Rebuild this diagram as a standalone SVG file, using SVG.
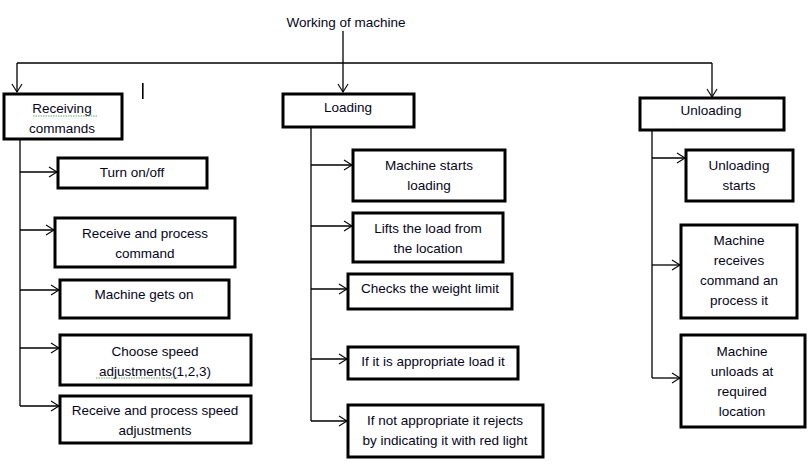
<svg xmlns="http://www.w3.org/2000/svg" width="812" height="466" viewBox="0 0 812 466">
<defs>
<marker id="arr" markerWidth="10" markerHeight="12" refX="9" refY="6" orient="auto" markerUnits="userSpaceOnUse">
<path d="M1,1 L9,6 L1,11" fill="none" stroke="#000" stroke-width="1.1"/>
</marker>
<style>
.box{fill:#fff;stroke:#000;stroke-width:3}
.ln{fill:none;stroke:#000;stroke-width:1.3}
.t{font-family:"Liberation Sans",Arial,sans-serif;font-size:13.5px;fill:#05051a;text-anchor:middle}
.sq{fill:none;stroke:#3a9a3a;stroke-width:0.8;stroke-dasharray:1.5 1}
</style>
</defs>
<rect width="812" height="466" fill="#fff"/>
<text class="t" x="346" y="27">Working of machine</text>
<g id="connectors">
<path class="ln" d="M343,31 V92" marker-end="url(#arr)"/>
<path class="ln" d="M17,63 H712"/>
<path class="ln" d="M17,63 V92" marker-end="url(#arr)"/>
<path class="ln" d="M712,63 V97" marker-end="url(#arr)"/>
<path class="ln" d="M20,140 V406"/>
<path class="ln" d="M20,172 H57" marker-end="url(#arr)"/>
<path class="ln" d="M20,230 H54" marker-end="url(#arr)"/>
<path class="ln" d="M20,290 H59" marker-end="url(#arr)"/>
<path class="ln" d="M20,348 H59" marker-end="url(#arr)"/>
<path class="ln" d="M20,406 H59" marker-end="url(#arr)"/>
<path class="ln" d="M311,128 V421"/>
<path class="ln" d="M311,165 H352" marker-end="url(#arr)"/>
<path class="ln" d="M311,226 H352" marker-end="url(#arr)"/>
<path class="ln" d="M311,289 H347" marker-end="url(#arr)"/>
<path class="ln" d="M311,359 H347" marker-end="url(#arr)"/>
<path class="ln" d="M311,421 H347" marker-end="url(#arr)"/>
<path class="ln" d="M652,131 V378"/>
<path class="ln" d="M652,158 H685" marker-end="url(#arr)"/>
<path class="ln" d="M652,265 H680" marker-end="url(#arr)"/>
<path class="ln" d="M652,378 H680" marker-end="url(#arr)"/>
</g>
<rect x="142" y="83" width="1.6" height="16" fill="#000"/>
<g id="receiving">
<rect class="box" x="4" y="94" width="118" height="45"/>
<text class="t" x="62" y="113">Receiving</text>
<text class="t" x="62" y="133">commands</text>
<path class="sq" d="M33,116 H97"/>
</g>
<g id="loading">
<rect class="box" x="283" y="94" width="131" height="33"/>
<text class="t" x="348" y="112">Loading</text>
</g>
<g id="unloading">
<rect class="box" x="640" y="98" width="144" height="32"/>
<text class="t" x="711" y="115">Unloading</text>
</g>
<g id="turn-on-off">
<rect class="box" x="58" y="158" width="149" height="30"/>
<text class="t" x="132" y="177">Turn on/off</text>
</g>
<g id="receive-process-command">
<rect class="box" x="55" y="218" width="180" height="49"/>
<text class="t" x="145" y="238">Receive and process</text>
<text class="t" x="145" y="258">command</text>
</g>
<g id="machine-gets-on">
<rect class="box" x="60" y="280" width="169" height="38"/>
<text class="t" x="144" y="299">Machine gets on</text>
</g>
<g id="choose-speed">
<rect class="box" x="60" y="335" width="191" height="50"/>
<text class="t" x="155" y="356">Choose speed</text>
<text class="t" x="155" y="376">adjustments(1,2,3)</text>
<path class="sq" d="M96,378 H178"/>
</g>
<g id="receive-process-speed">
<rect class="box" x="60" y="396" width="191" height="47"/>
<text class="t" x="155" y="415">Receive and process speed</text>
<text class="t" x="155" y="435">adjustments</text>
</g>
<g id="machine-starts-loading">
<rect class="box" x="353" y="150" width="152" height="51"/>
<text class="t" x="429" y="170">Machine starts</text>
<text class="t" x="429" y="190">loading</text>
</g>
<g id="lifts-load">
<rect class="box" x="353" y="213" width="150" height="49"/>
<text class="t" x="428" y="233">Lifts the load from</text>
<text class="t" x="428" y="253">the location</text>
</g>
<g id="checks-weight">
<rect class="box" x="348" y="274" width="164" height="35"/>
<text class="t" x="430" y="293">Checks the weight limit</text>
</g>
<g id="appropriate-load">
<rect class="box" x="348" y="347" width="170" height="32"/>
<text class="t" x="433" y="366">If it is appropriate load it</text>
</g>
<g id="not-appropriate">
<rect class="box" x="348" y="405" width="195" height="52"/>
<text class="t" x="445" y="425">If not appropriate it rejects</text>
<text class="t" x="445" y="445">by indicating it with red light</text>
</g>
<g id="unloading-starts">
<rect class="box" x="686" y="150" width="107" height="51"/>
<text class="t" x="739" y="170">Unloading</text>
<text class="t" x="739" y="190">starts</text>
</g>
<g id="machine-receives">
<rect class="box" x="681" y="225" width="116" height="93"/>
<text class="t" x="739" y="245">Machine</text>
<text class="t" x="739" y="265">receives</text>
<text class="t" x="739" y="285">command an</text>
<text class="t" x="739" y="305">process it</text>
</g>
<g id="machine-unloads">
<rect class="box" x="681" y="335" width="124" height="92"/>
<text class="t" x="742" y="356">Machine</text>
<text class="t" x="742" y="376">unloads at</text>
<text class="t" x="742" y="396">required</text>
<text class="t" x="742" y="416">location</text>
</g>
</svg>
